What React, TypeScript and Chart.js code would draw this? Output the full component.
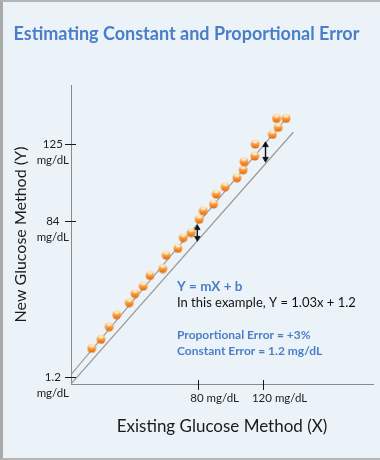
import React, { useEffect, useRef } from 'react';
import { Chart, registerables } from 'chart.js';

Chart.register(...registerables);

// ---- text ----
const TITLE = 'Estimating Constant and Proportional Error';
const X_TITLE = 'Existing Glucose Method (X)';
const Y_TITLE = 'New Glucose Method (Y)';
const UNIT = 'mg/dL';
const EQUATION = 'Y = mX + b';
const EXAMPLE = 'In this example, Y = 1.03x + 1.2';
const PROP_ERROR = 'Proportional Error = +3%';
const CONST_ERROR = 'Constant Error = 1.2 mg/dL';

// ---- ticks ----
const X_TICKS = [80, 120];
const Y_TICKS = [1.2, 84, 125];

// ---- sample points (existing method X, new method Y) ----
const SAMPLE_X = [14.75, 20.48, 25.59, 30.15, 37.91, 41.42, 46.53, 50.66, 58.48, 60.7, 67.9, 71.17, 76.03, 81.02, 83.48, 89.77, 91.49, 96.97, 104.24, 108.06, 108.55, 115.14, 115.45, 126.1, 129.68, 128.57, 134.42];
const SAMPLE_Y = [16.47, 21.25, 27.95, 34.33, 40.81, 45.59, 49.58, 55.26, 58.88, 65.94, 69.61, 75.35, 78.01, 85.07, 89.59, 93.15, 98.47, 102.35, 107.13, 111.38, 115.74, 118.66, 125.04, 130.19, 133.91, 138.69, 138.69];

// ---- reference lines ----
const IDENTITY_X = [2, 138.9];
const IDENTITY_Y = [-2.5, 131.3];
const FIT_X = [2, 135.7];
const FIT_Y = [2.5, 139.9];

// ---- error arrows ----
const ARROW1_X = [79.8, 79.8];
const ARROW1_Y = [80.4, 75.1];
const ARROW2_X = [121.8, 121.8];
const ARROW2_Y = [124.5, 117.1];

const X_MIN = 2;
const X_MAX = 188;
const Y_MIN = -2.5;
const Y_MAX = 156.4;

const FONT = 'Lato, "Open Sans", sans-serif';
const BLUE = '#4a7fc8';

const pts = (xs: number[], ys: number[]) => xs.map((x, i) => ({ x, y: ys[i] }));

function makeSphere(): HTMLCanvasElement {
  const c = document.createElement('canvas');
  c.width = 10;
  c.height = 10;
  const g = c.getContext('2d')!;
  const grad = g.createLinearGradient(0, 0.5, 0, 9.5);
  grad.addColorStop(0, '#ffe2b0');
  grad.addColorStop(0.35, '#fbb158');
  grad.addColorStop(0.7, '#f38526');
  grad.addColorStop(1, '#dc6a14');
  g.fillStyle = grad;
  g.beginPath();
  g.arc(5, 5, 4.5, 0, Math.PI * 2);
  g.fill();
  g.fillStyle = 'rgba(255,250,235,0.75)';
  g.beginPath();
  g.ellipse(5, 3, 2.4, 1.4, 0, 0, Math.PI * 2);
  g.fill();
  return c;
}

const decor = {
  id: 'decor',
  afterDraw(chart: any) {
    const { ctx } = chart;
    const xs = chart.scales.x;
    const ys = chart.scales.y;
    ctx.save();
    ctx.strokeStyle = '#1a1a1a';
    ctx.lineWidth = 1;
    const axX = Math.round(ys.right);
    const axY = Math.round(xs.top);
    Y_TICKS.forEach((v) => {
      const py = Math.round(ys.getPixelForValue(v)) + 0.5;
      ctx.beginPath();
      ctx.moveTo(axX - 6, py);
      ctx.lineTo(axX + 5, py);
      ctx.stroke();
    });
    X_TICKS.forEach((v) => {
      const px = Math.round(xs.getPixelForValue(v)) + 0.5;
      ctx.beginPath();
      ctx.moveTo(px, axY - 4);
      ctx.lineTo(px, axY + 6);
      ctx.stroke();
    });
    ctx.textAlign = 'left';
    ctx.textBaseline = 'middle';
    const left = 177;
    ctx.fillStyle = BLUE;
    ctx.font = `bold 13.5px ${FONT}`;
    ctx.fillText(EQUATION, left, 287);
    ctx.fillStyle = '#111';
    ctx.font = `13px ${FONT}`;
    ctx.fillText(EXAMPLE, left, 303);
    ctx.fillStyle = BLUE;
    ctx.font = `bold 12px ${FONT}`;
    ctx.fillText(PROP_ERROR, left, 335);
    ctx.fillText(CONST_ERROR, left, 351);
    ctx.restore();
  },
};

export default function App() {
  const ref = useRef<HTMLCanvasElement>(null);
  useEffect(() => {
    document.body.style.margin = '0';
    const sphere = makeSphere();
    const chart = new Chart(ref.current!, {
      type: 'scatter',
      data: {
        datasets: [
          {
            data: pts(SAMPLE_X, SAMPLE_Y),
            pointStyle: sphere as any,
            pointRadius: 5,
            showLine: false,
          },
          {
            data: pts(ARROW1_X, ARROW1_Y),
            showLine: true,
            borderColor: '#111',
            borderWidth: 1.4,
            pointStyle: 'triangle',
            pointRadius: 3.2,
            pointRotation: [0, 180],
            pointBackgroundColor: '#111',
            pointBorderColor: '#111',
            pointBorderWidth: 0.8,
          },
          {
            data: pts(ARROW2_X, ARROW2_Y),
            showLine: true,
            borderColor: '#111',
            borderWidth: 1.4,
            pointStyle: 'triangle',
            pointRadius: 3.2,
            pointRotation: [0, 180],
            pointBackgroundColor: '#111',
            pointBorderColor: '#111',
            pointBorderWidth: 0.8,
          },
          {
            data: pts(FIT_X, FIT_Y),
            showLine: true,
            borderColor: '#9a9a9a',
            borderWidth: 1.2,
            pointRadius: 0,
          },
          {
            data: pts(IDENTITY_X, IDENTITY_Y),
            showLine: true,
            borderColor: '#9a9a9a',
            borderWidth: 1.2,
            pointRadius: 0,
          },
        ],
      },
      options: {
        animation: false,
        responsive: false,
        events: [],
        layout: { padding: { left: 0, right: 7, top: 0, bottom: 0 } },
        plugins: {
          legend: { display: false },
          tooltip: { enabled: false },
          title: {
            display: true,
            text: TITLE,
            color: BLUE,
            font: { family: FONT, size: 18, weight: 'bold', lineHeight: 1.2 },
            padding: { top: 23.5, bottom: 39.9 },
          },
        },
        scales: {
          x: {
            type: 'linear',
            min: X_MIN,
            max: X_MAX,
            afterBuildTicks: (s: any) => {
              s.ticks = X_TICKS.map((v) => ({ value: v }));
            },
            afterFit: (s: any) => {
              s.height = 76;
            },
            grid: { display: false, drawTicks: false },
            border: { display: true, color: '#8a8a8a', width: 1 },
            ticks: {
              padding: 7,
              labelOffset: 17,
              color: '#222',
              font: { family: FONT, size: 11.5 },
              maxRotation: 0,
              callback: (v: any) => `${v} ${UNIT}`,
            },
            title: {
              display: true,
              text: X_TITLE,
              color: '#1a1a1a',
              font: { family: FONT, size: 17, lineHeight: 1.2 },
              padding: { top: 0, bottom: 23 },
            },
          },
          y: {
            type: 'linear',
            min: Y_MIN,
            max: Y_MAX,
            afterBuildTicks: (s: any) => {
              s.ticks = Y_TICKS.map((v) => ({ value: v }));
            },
            afterFit: (s: any) => {
              s.width = 71;
            },
            grid: { display: false, drawTicks: false },
            border: { display: true, color: '#8a8a8a', width: 1 },
            ticks: {
              padding: 2,
              crossAlign: 'center',
              labelOffset: 8,
              color: '#222',
              font: { family: FONT, size: 11.5, lineHeight: 1.4 },
              callback: (v: any) => [String(v), UNIT],
            },
            title: {
              display: true,
              text: Y_TITLE,
              color: '#1a1a1a',
              font: { family: FONT, size: 16, lineHeight: 1.2 },
              padding: { top: 11.5, bottom: 0 },
            },
          },
        },
      } as any,
      plugins: [decor],
    });
    return () => chart.destroy();
  }, []);

  return (
    <div
      style={{
        position: 'relative',
        width: 380,
        height: 460,
        boxSizing: 'border-box',
        background: '#ecf3f8',
        borderLeft: '3px solid #a9a9a9',
        borderTop: '2px solid #b4b4b4',
        borderBottom: '2px solid #b4b4b4',
      }}
    >
      <canvas
        ref={ref}
        width={380}
        height={460}
        style={{ position: 'absolute', left: -3, top: -2, width: 380, height: 460 }}
      />
    </div>
  );
}
